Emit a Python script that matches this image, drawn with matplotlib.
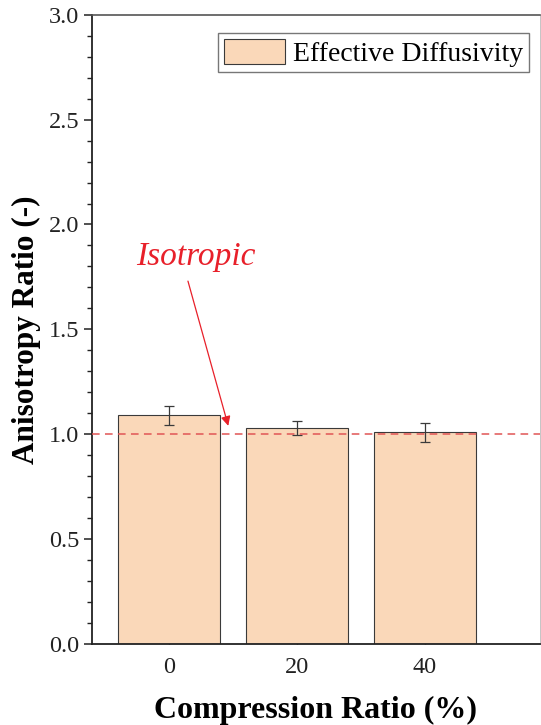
import matplotlib
matplotlib.use("Agg")
import matplotlib.pyplot as plt
from matplotlib.ticker import MultipleLocator, FormatStrFormatter

# Data
compression = [0, 20, 40]
anisotropy = [1.09, 1.03, 1.01]
errors = [0.047, 0.034, 0.045]
tick_labels = ["0", "20", "40"]

plt.rcParams['font.family'] = ['Liberation Serif', 'DejaVu Serif']

fig = plt.figure(figsize=(5.41, 7.25), dpi=100)
ax = fig.add_axes([0.170, 0.1117, 0.828, 0.868])

ax.bar(compression, anisotropy, width=16, color='#FAD8B9', edgecolor='#3a3a3a',
       linewidth=0.8, label='Effective Diffusivity', zorder=2)
ax.errorbar(compression, anisotropy, yerr=errors, fmt='none', ecolor='#3a3a3a',
            elinewidth=0.9, capsize=3.5, capthick=0.9, zorder=3)

ax.axhline(1.0, color='#e05555', linestyle=(0, (5, 3.5)), linewidth=1.1, zorder=4)

# reference annotation
ax.text(4.3, 1.845, 'Isotropic', color='#e8202a', fontsize=24, style='italic',
        ha='center', va='center')
ax.annotate('', xy=(9.3, 1.04), xytext=(3.0, 1.73),
            arrowprops=dict(arrowstyle='-|>', color='#e8202a', lw=0.9,
                            shrinkA=0, shrinkB=0, mutation_scale=14))

ax.set_xlim(-12, 58)
ax.set_ylim(0, 3.0)
ax.set_xticks(compression)
ax.set_xticklabels(tick_labels)
ax.yaxis.set_major_locator(MultipleLocator(0.5))
ax.yaxis.set_minor_locator(MultipleLocator(0.1))
ax.yaxis.set_major_formatter(FormatStrFormatter('%.1f'))

ax.tick_params(axis='y', which='major', direction='out', length=6, width=1.1,
               labelsize=17.5, pad=3, colors='#222222')
ax.tick_params(axis='y', which='minor', direction='out', length=3.5, width=1.0,
               colors='#222222')
ax.tick_params(axis='x', which='major', direction='in', length=4, width=1.0,
               labelsize=17.5, pad=9, colors='#222222')

for side in ['left', 'bottom']:
    ax.spines[side].set_linewidth(1.3)
    ax.spines[side].set_color('#222222')
ax.spines['top'].set_linewidth(1.2)
ax.spines['top'].set_color('#555555')
ax.spines['right'].set_linewidth(0.6)
ax.spines['right'].set_color('#bbbbbb')

ax.set_xlabel('Compression Ratio (%)', fontsize=23, fontweight='bold', labelpad=13)
ax.set_ylabel('Anisotropy Ratio (-)', fontsize=22.5, fontweight='bold', labelpad=6)

leg = ax.legend(loc='upper right', bbox_to_anchor=(529 / 541, 1 - 33 / 725),
                bbox_transform=fig.transFigure,
                fontsize=20, frameon=True, fancybox=False,
                edgecolor='#777777', framealpha=1, borderpad=0.2,
                handlelength=2.2, handleheight=1.05, handletextpad=0.3,
                borderaxespad=0)
leg.get_frame().set_linewidth(1.0)

fig.savefig('out.png', dpi=100)
